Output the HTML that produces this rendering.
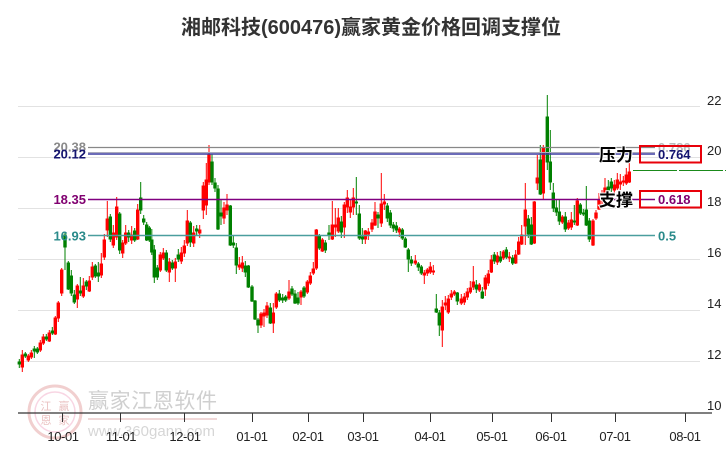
<!DOCTYPE html>
<html><head><meta charset="utf-8">
<style>
html,body{margin:0;padding:0;background:#fff;}
#wrap{position:relative;width:726px;height:450px;overflow:hidden;background:#fff;}
svg{position:absolute;left:0;top:0;}
</style></head>
<body><div id="wrap">
<svg id="s" width="726" height="450" viewBox="0 0 726 450" xmlns="http://www.w3.org/2000/svg">
<!-- watermark -->
<g opacity="0.4">
<circle cx="55" cy="412" r="26" fill="none" stroke="#d88" stroke-width="3"/>
<circle cx="55" cy="412" r="20" fill="none" stroke="#e9b" stroke-width="1.5"/>
<text x="46" y="410" font-family="Noto Sans CJK SC, sans-serif" font-size="11" fill="#c66" text-anchor="middle">江</text>
<text x="64" y="410" font-family="Noto Sans CJK SC, sans-serif" font-size="11" fill="#c66" text-anchor="middle">赢</text>
<text x="46" y="424" font-family="Noto Sans CJK SC, sans-serif" font-size="11" fill="#c66" text-anchor="middle">恩</text>
<text x="64" y="424" font-family="Noto Sans CJK SC, sans-serif" font-size="11" fill="#c66" text-anchor="middle">家</text>
</g>
<text x="88" y="408" font-family="'Liberation Sans','Noto Sans CJK SC',sans-serif" font-size="21" fill="#cfcfcf" textLength="129">赢家江恩软件</text>
<line x1="88" y1="419" x2="217" y2="419" stroke="#f0d8d8" stroke-width="2"/>
<text x="88" y="436" font-family="'Liberation Sans',sans-serif" font-size="15" fill="#d6d6d6" textLength="127">www.360gann.com</text>

<!-- gridlines -->
<g stroke="#e2e2e2" stroke-width="1">
<line x1="18" y1="106.5" x2="700" y2="106.5"/>
<line x1="18" y1="157.5" x2="700" y2="157.5"/>
<line x1="18" y1="208.5" x2="700" y2="208.5"/>
<line x1="18" y1="259.5" x2="700" y2="259.5"/>
<line x1="18" y1="310.5" x2="700" y2="310.5"/>
<line x1="18" y1="361.5" x2="700" y2="361.5"/>
</g>
<g id="candles"></g>
<!-- level lines -->
<line x1="88" y1="147.5" x2="655" y2="147.5" stroke="#888" stroke-width="1.2"/>
<line x1="88" y1="152.5" x2="655" y2="152.5" stroke="#aab" stroke-width="1"/>
<line x1="88" y1="154" x2="655" y2="154" stroke="#3c3ca0" stroke-width="1.4"/>
<line x1="88" y1="199.5" x2="655" y2="199.5" stroke="#800080" stroke-width="1.4"/>
<line x1="88" y1="235.5" x2="655" y2="235.5" stroke="#4a9e9e" stroke-width="1.6"/>
<line x1="633" y1="170.5" x2="726" y2="170.5" stroke="#1a8a1a" stroke-width="1" stroke-dasharray="44,2"/>

<g font-family="'Liberation Sans',sans-serif" font-weight="bold" font-size="13" text-anchor="end">
<text x="86" y="151.5" fill="#8a8a8a">20.38</text>
<text x="86" y="158.5" fill="#141470">20.12</text>
<text x="86" y="204" fill="#800070">18.35</text>
<text x="86" y="240.5" fill="#2a8a8a">16.93</text>
</g>
<g font-family="'Liberation Sans',sans-serif" font-weight="bold" font-size="13">
<text x="658" y="152" fill="#bbb">0.786</text>
<text x="658" y="159" fill="#141470">0.764</text>
<text x="658" y="204" fill="#800070">0.618</text>
<text x="658" y="240.5" fill="#2a8a8a">0.5</text>
</g>
<rect x="640" y="146" width="61" height="16.5" fill="none" stroke="#e8000a" stroke-width="2"/>
<rect x="640" y="191" width="61" height="16.5" fill="none" stroke="#e8000a" stroke-width="2"/>
<g font-family="'Liberation Sans','Noto Sans CJK SC',sans-serif" font-size="17" font-weight="bold" fill="#000" stroke="#fff" stroke-width="2" paint-order="stroke">
<text x="599" y="161">压力</text>
<text x="599" y="206">支撑</text>
</g>

<!-- axis -->
<line x1="18" y1="413" x2="712" y2="413" stroke="#333" stroke-width="1.3"/>
<g stroke="#333" stroke-width="1">
<line x1="62.5" y1="413" x2="62.5" y2="422"/>
<line x1="120.5" y1="413" x2="120.5" y2="422"/>
<line x1="184.5" y1="413" x2="184.5" y2="422"/>
<line x1="252.5" y1="413" x2="252.5" y2="422"/>
<line x1="308.5" y1="413" x2="308.5" y2="422"/>
<line x1="363.5" y1="413" x2="363.5" y2="422"/>
<line x1="430.5" y1="413" x2="430.5" y2="422"/>
<line x1="492.5" y1="413" x2="492.5" y2="422"/>
<line x1="551.5" y1="413" x2="551.5" y2="422"/>
<line x1="615.5" y1="413" x2="615.5" y2="422"/>
<line x1="685.5" y1="413" x2="685.5" y2="422"/>
</g>
<g font-family="'Liberation Sans',sans-serif" font-size="13" fill="#222" text-anchor="middle" letter-spacing="-0.4">
<text x="63" y="441">10-01</text>
<text x="121" y="441">11-01</text>
<text x="185" y="441">12-01</text>
<text x="252" y="441">01-01</text>
<text x="308" y="441">02-01</text>
<text x="363" y="441">03-01</text>
<text x="430" y="441">04-01</text>
<text x="492" y="441">05-01</text>
<text x="551" y="441">06-01</text>
<text x="615" y="441">07-01</text>
<text x="685" y="441">08-01</text>
</g>
<g font-family="'Liberation Sans',sans-serif" font-size="13" fill="#222">
<text x="707" y="105">22</text>
<text x="707" y="155">20</text>
<text x="707" y="206">18</text>
<text x="707" y="257">16</text>
<text x="707" y="308">14</text>
<text x="707" y="359">12</text>
<text x="707" y="410">10</text>
</g>
<text x="371" y="34" text-anchor="middle" font-family="'Liberation Sans','Noto Sans CJK SC',sans-serif" font-weight="bold" font-size="20" fill="#333">湘邮科技(600476)赢家黄金价格回调支撑位</text>
</svg>
</div>
<script>
var D=[
[19.3,362,364,0,359,368],[22.3,355,367,1,350,372],[25.3,354,356,0,352,358],[28.3,356,360,1,354,362],[31.3,353,357,1,350,359],[34.3,349,351,0,346,358],[37.3,349,352,0,347,354],[40.3,343,350,1,340,352],[43.3,337,343,1,334,345],[46.3,337,339,0,334,341],[49.3,333,341,1,330,342],[52.3,331,333,0,327,335],[55.3,318,334,1,316,335],[58.3,303,318,1,301,322],[61.7,270,293,1,268,296],[65,235,247,0,233,270],[68.3,263,289,0,261,290],[71.3,276,293,0,270,296],[74.3,295,302,0,290,304],[77.3,286,299,1,284,308],[80.3,291,293,0,277,296],[83.3,286,296,1,278,298],[86.3,282,286,0,280,290],[89.3,281,291,1,276,292],[92.3,267,277,1,262,280],[95.3,266,276,0,264,278],[98.3,273,276,0,262,282],[101.3,264,275,1,253,278],[104.3,240,257,1,234,260],[107.3,219,230,1,201,237],[110.3,217,239,0,214,242],[113.3,233,245,1,225,248],[116.7,207,237,1,197,240],[119.7,214,250,0,212,254],[122.7,243,253,1,240,258],[125.7,233,243,1,225,245],[128.7,233,237,0,230,242],[131.7,235,240,1,226,244],[134.7,231,240,0,228,242],[137.7,210,239,1,204,240],[140.7,198,210,0,182,214],[143.7,219,222,0,215,225],[146.7,225,240,0,222,241],[149.3,228,240,0,226,242],[151.8,240,252,0,229,255],[154.3,250,277,0,245,283],[157.3,268,277,0,265,280],[160.3,255,270,1,252,272],[163.3,253,258,1,248,260],[166.3,253,270,0,250,272],[169.3,262,272,1,258,282],
[172.3,263,268,0,260,270],[175.3,262,268,1,258,282],[178.3,255,259,0,249,262],[181.3,253,261,1,247,264],[184.3,246,253,1,240,257],[187.3,221,243,1,210,246],[190.3,223,242,0,221,247],[193.7,233,243,1,226,247],[196.7,229,231,0,225,235],[199.7,230,233,1,225,238],[203.3,186,210,1,182,219],[206.3,180,205,1,163,215],[209,154,182,1,145,185],[212,162,182,0,154,185],[215,183,188,0,178,192],[218,189,229,0,185,230],[221,213,216,0,200,225],[224,208,218,1,202,224],[227,205,210,1,194,215],[230.3,206,245,0,205,246],[233.3,243,245,0,235,248],[236.3,248,265,0,243,274],[239.3,265,267,1,257,270],[242.3,263,268,1,256,272],[245.3,266,272,0,261,277],[248.3,266,287,0,265,288],[252,287,301,0,285,302],[255,301,319,0,300,320],[258,320,325,0,318,333],[261,314,325,1,312,328],[264,313,316,1,309,327],[267,306,315,1,302,318],[270.3,308,323,0,303,324],[273.3,313,323,1,303,333],[276.3,294,307,1,292,309],[279.3,294,300,0,290,302],[282.7,298,300,0,294,303],[285.7,297,300,0,295,302],[289,292,298,1,280,300],[292,289,294,0,286,296],[295,294,303,0,290,304],[298,298,303,0,292,305],[301,292,297,1,290,305],[304,288,296,0,286,298],[307.3,282,292,1,280,294],[310.3,276,283,1,272,285],[313.3,269,273,1,262,275],[316.3,230,268,1,229,270],[319.3,236,248,0,234,250],[322.3,240,251,1,238,252],[325.3,243,250,0,240,253],[329,233,235,0,225,240],[332.3,225,239,1,201,240],[335.3,225,227,1,208,237],[338.3,218,231,1,208,233],[341.3,222,232,0,216,238],[344.3,205,227,1,202,238],[347.3,198,207,1,190,213],[350.3,207,212,1,200,218],[353.3,198,207,1,188,215],[356.3,202,203,0,177,215],[359.3,214,238,0,205,240],[362.3,237,239,0,228,244],[365.3,231,239,1,230,244],[368.3,232,234,1,228,240],[372,223,229,1,219,232],[375,212,225,1,202,226],[378,215,218,0,212,228],[381.3,204,223,1,173,227],[384.3,202,204,1,194,210],[387.3,206,218,0,203,222],[390.3,213,225,0,210,228],[393.3,225,228,0,222,232],[396.3,226,230,0,222,233],[399.3,229,232,1,227,237],[402.3,230,238,0,228,240],[405.3,239,247,0,237,248],[408.3,250,259,0,248,272],[411.3,260,263,0,256,266],[415.3,261,263,1,255,265],[418.3,264,267,0,262,271],[421.3,267,273,0,265,275],[424.3,273,275,1,270,284],[427.3,270,273,1,268,276],[430.3,267,272,1,262,274],[433.3,271,272,1,265,275],
[436.3,309,312,0,294,313],[439.3,313,325,0,310,336],[442.3,307,330,1,300,347],[445.3,303,305,1,296,310],[448.3,299,312,1,295,314],[451.3,294,297,1,290,300],[454.3,292,294,1,290,296],[457.3,293,301,0,292,305],[461.3,299,303,1,294,305],[464.3,297,302,1,293,305],[467.3,292,297,1,288,300],[470.3,288,292,1,281,294],[473.3,282,287,1,266,290],[476.3,285,289,0,280,293],[479.3,285,290,1,283,292],
[482.3,292,298,0,287,299],[485.3,278,289,1,275,296],[488.3,274,283,1,270,286],[491.3,260,272,1,255,273],[494.3,255,261,0,252,264],[497.3,256,262,1,252,265],[500.3,257,261,0,251,263],[503.3,252,258,1,250,260],[506.3,250,257,0,247,259],[509.3,257,258,1,252,262],[512.7,258,263,0,255,265],[515.7,255,263,1,250,264],[518.7,242,254,1,237,255],[521.7,235,244,1,225,245],[525.3,210,226,1,183,245],[528.3,219,234,0,215,238],[531.3,225,244,0,217,245],[534.3,202,243,1,201,244],[537.3,178,183,1,155,190],[540.3,160,194,0,145,195],[543.3,148,193,1,145,199],[547.3,117,162,0,95,170],[550.3,162,182,0,130,190],[553.3,193,208,0,183,212],[556.3,208,212,0,200,216],[559.3,212,221,0,200,225],[562.3,217,222,1,215,224],[565.3,217,229,0,212,232],[568.3,223,228,1,220,230],[571.3,220,227,1,212,230],[574.3,221,222,0,205,225],[577.3,201,225,1,198,226],[580.3,205,213,0,203,215],[583.3,213,214,0,209,216],[586.3,210,225,0,186,226],[589.3,221,239,0,218,242],[593,221,245,1,219,246],[596,213,218,1,210,220],[599,200,209,1,193,210],[602,197,200,1,190,205],[605,188,198,1,178,200],[608.3,187,190,0,180,198],[611.3,182,188,0,178,192],[614.3,185,190,1,180,195],[617.3,180,188,1,173,190],[620.3,182,184,1,174,190],[623.3,181,182,1,176,186],[626.3,175,183,1,168,185],[629.3,172,182,1,162,183]
];
var NS="http://www.w3.org/2000/svg",g=document.getElementById("candles");
var pr="",pg="";
for(var i=0;i<D.length;i++){var d=D[i],x=d[0],t=Math.min(d[1],d[2]),b=Math.max(d[1],d[2]);if(b-t<1)b=t+1;
var s="M"+x+" "+d[4]+"V"+d[5]+"M"+(x-1.2)+" "+t+"h2.4V"+b+"h-2.4Z";
if(d[3])pr+=s;else pg+=s;}
var p1=document.createElementNS(NS,"path");p1.setAttribute("d",pr);p1.setAttribute("fill","#ff0000");p1.setAttribute("stroke","#ff0000");p1.setAttribute("stroke-width","1");g.appendChild(p1);
var p2=document.createElementNS(NS,"path");p2.setAttribute("d",pg);p2.setAttribute("fill","#008000");p2.setAttribute("stroke","#008000");p2.setAttribute("stroke-width","1");g.appendChild(p2);
</script>
</body></html>
